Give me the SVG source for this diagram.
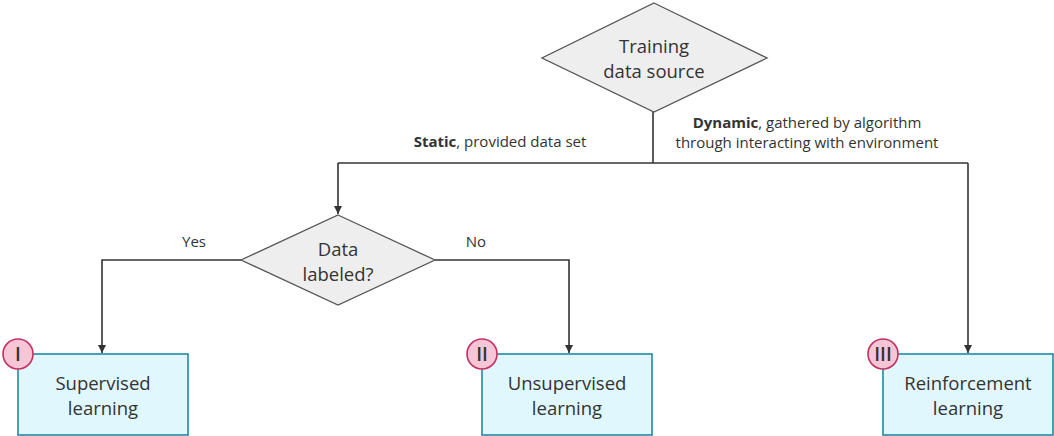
<svg xmlns="http://www.w3.org/2000/svg" width="1054" height="436" viewBox="0 0 1054 436">
  <style>
    text { font-family: "Open Sans", "Liberation Sans", sans-serif; fill: #333; }
    .node-text { font-size: 18.5px; text-anchor: middle; }
    .edge-text { font-size: 15px; }
    .decision { fill: #eeeeee; stroke: #555; stroke-width: 1.3; }
    .result { fill: #e0f7fd; stroke: #1f8aa6; stroke-width: 1.6; }
    .badge { fill: #f7c6d6; stroke: #c2325e; stroke-width: 1.6; }
    .badge-text { font-size: 19px; text-anchor: middle; fill: #333; font-weight: 600; }
    .edge { fill: none; stroke: #333; stroke-width: 1.6; }
  </style>
  <defs>
    <marker id="arrow" viewBox="0 0 10 10" refX="10" refY="5" markerWidth="8" markerHeight="8" markerUnits="userSpaceOnUse" orient="auto">
      <path d="M0,0 L10,5 L0,10 z" fill="#333"/>
    </marker>
  </defs>

  <!-- connectors -->
  <g id="connectors">
    <path class="edge" d="M653,112 V163"/>
    <path class="edge" d="M338,163 H968"/>
    <path class="edge" d="M338,163 V214" marker-end="url(#arrow)"/>
    <path class="edge" d="M968,163 V353" marker-end="url(#arrow)"/>
    <path class="edge" d="M241,260 H102 V353" marker-end="url(#arrow)"/>
    <path class="edge" d="M435,260 H569 V353" marker-end="url(#arrow)"/>
    <text class="edge-text" x="500" y="147" text-anchor="middle"><tspan font-weight="bold">Static</tspan>, provided data set</text>
    <text class="edge-text" x="807" y="128" text-anchor="middle"><tspan font-weight="bold">Dynamic</tspan>, gathered by algorithm</text>
    <text class="edge-text" x="807" y="148" text-anchor="middle">through interacting with environment</text>
    <text class="edge-text" x="194" y="247" text-anchor="middle">Yes</text>
    <text class="edge-text" x="476" y="247" text-anchor="middle">No</text>
  </g>

  <!-- decision: training data source -->
  <g id="source">
    <polygon class="decision" points="654,3 767,58 654,112 542,58"/>
    <text class="node-text" x="654" y="53">Training</text>
    <text class="node-text" x="654" y="78">data source</text>
  </g>

  <!-- decision: data labeled -->
  <g id="labeled">
    <polygon class="decision" points="338,215 435,260 338,305 241,260"/>
    <text class="node-text" x="338" y="256">Data</text>
    <text class="node-text" x="338" y="281">labeled?</text>
  </g>

  <!-- result: supervised -->
  <g id="supervised">
    <rect class="result" x="18" y="354" width="170" height="81"/>
    <text class="node-text" x="103" y="390">Supervised</text>
    <text class="node-text" x="103" y="415">learning</text>
    <circle class="badge" cx="18" cy="354" r="15"/>
    <text class="badge-text" x="18" y="361">I</text>
  </g>

  <!-- result: unsupervised -->
  <g id="unsupervised">
    <rect class="result" x="482" y="354" width="170" height="81"/>
    <text class="node-text" x="567" y="390">Unsupervised</text>
    <text class="node-text" x="567" y="415">learning</text>
    <circle class="badge" cx="482" cy="354" r="15"/>
    <text class="badge-text" x="482" y="361">II</text>
  </g>

  <!-- result: reinforcement -->
  <g id="reinforcement">
    <rect class="result" x="883" y="354" width="170" height="81"/>
    <text class="node-text" x="968" y="390">Reinforcement</text>
    <text class="node-text" x="968" y="415">learning</text>
    <circle class="badge" cx="883" cy="354" r="15"/>
    <text class="badge-text" x="883" y="361">III</text>
  </g>
</svg>
